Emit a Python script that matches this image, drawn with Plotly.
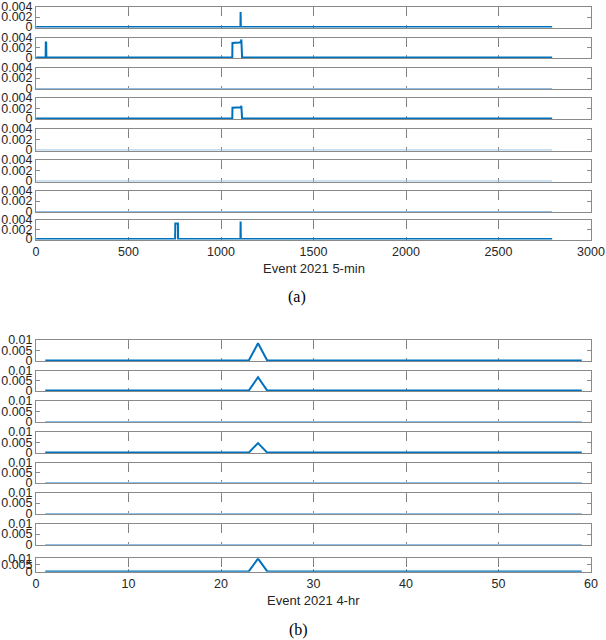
import plotly.graph_objects as go

# panel (a): 5-min series, stored as line vertices
a_x = [
    [1, 1105, 1106, 1107, 2790],
    [1, 52, 53, 55, 56, 1061, 1062, 1100, 1108, 1110, 1114, 2790],
    [1, 2790],
    [1, 1061, 1062, 1100, 1108, 1110, 1114, 2790],
    [1, 2790],
    [1, 2790],
    [1, 2790],
    [1, 752, 753, 767, 768, 1105, 1106, 1107, 2790],
]
a_y = [
    [0, 0, 0.003, 0, 0],
    [0, 0, 0.003, 0.003, 0, 0, 0.0029, 0.0030, 0.0032, 0.0036, 0, 0],
    [0, 0],
    [0, 0, 0.0021, 0.0021, 0.0022, 0.0025, 0, 0],
    [0, 0],
    [0, 0],
    [0, 0],
    [0, 0, 0.0032, 0.0032, 0, 0, 0.0036, 0, 0],
]

# panel (b): 4-hr series
b_x = [
    [1, 23, 24, 25, 59],
    [1, 23, 24, 25, 59],
    [1, 59],
    [1, 23, 24, 25, 59],
    [1, 59],
    [1, 59],
    [1, 59],
    [1, 23, 24, 25, 59],
]
b_y = [
    [0, 0, 0.0084, 0, 0],
    [0, 0, 0.0068, 0, 0],
    [0, 0],
    [0, 0, 0.0046, 0, 0],
    [0, 0],
    [0, 0],
    [0, 0],
    [0, 0, 0.0098, 0, 0],
]

a_ticks = [0, 0.002, 0.004]
a_ticktext = ["0", "0.002", "0.004"]
b_ticks = [0, 0.005, 0.01]
b_ticktext = ["0", "0.005", "0.01"]

W, H = 606, 640
# pixel rows (top, bottom) of each subplot
a_rows = [(7, 27.5), (37.5, 58), (67.5, 89), (98, 119), (129, 150.5), (160, 181.5), (190.5, 212), (219.5, 239.5)]
b_rows = [(340, 361), (371, 391), (401, 422), (432, 453), (463, 483), (492.5, 514), (523.5, 545), (558.3, 571.7)]
xdom = [36 / W, 591 / W]

BLUE = "#0072BD"
LIGHT = "#8fbde3"
FONT = "Liberation Sans"

fig = go.Figure()
layout = {}

def add_panel(xs, ys, rows, start, xrange, xdtick, ytv, ytt, ymax):
    for i in range(8):
        n = start + i
        flat = max(ys[i]) == 0
        fig.add_trace(go.Scatter(
            x=xs[i], y=ys[i], mode="lines",
            line=dict(color=LIGHT if flat else BLUE, width=1.2 if flat else 2),
            xaxis="x%d" % n, yaxis="y%d" % n, showlegend=False, hoverinfo="skip"))
        top, bot = rows[i]
        last = i == 7
        layout["xaxis%d" % n] = dict(
            domain=xdom, anchor="y%d" % n, range=xrange, dtick=xdtick, tick0=0,
            showgrid=True, gridcolor="#7f7f7f", griddash="dash", gridwidth=1,
            showline=True, linecolor="#8a8a8a", linewidth=1, mirror="allticks",
            ticks="inside", ticklen=3, tickcolor="#8a8a8a", zeroline=False,
            showticklabels=last, layer="below traces", automargin=False,
            tickfont=dict(family=FONT, size=12.5, color="#262626"))
        layout["yaxis%d" % n] = dict(
            domain=[1 - bot / H, 1 - top / H], anchor="x%d" % n,
            range=[-ymax * 0.02, ymax], tickvals=ytv, ticktext=ytt,
            showgrid=False, zeroline=False, showline=True, linecolor="#8a8a8a",
            linewidth=1, mirror="allticks", ticks="inside", ticklen=4,
            tickcolor="#8a8a8a", layer="below traces", automargin=False,
            tickfont=dict(family=FONT, size=12.5, color="#262626"))

add_panel(a_x, a_y, a_rows, 1, [0, 3000], 500, a_ticks, a_ticktext, 0.004)
add_panel(b_x, b_y, b_rows, 9, [0, 60], 10, b_ticks, b_ticktext, 0.01)

def label(text, px, py, serif=False):
    return dict(text=text, x=px / W, y=1 - py / H, xref="paper", yref="paper",
                xanchor="center", yanchor="middle", showarrow=False,
                font=dict(family="Liberation Serif" if serif else FONT,
                          size=16 if serif else 13,
                          color="black" if serif else "#262626"))

fig.update_layout(
    width=W, height=H, margin=dict(l=0, r=0, t=0, b=0, autoexpand=False),
    paper_bgcolor="white", plot_bgcolor="white",
    annotations=[
        label("Event 2021 5-min", 313.5, 268),
        label("(a)", 297, 297, serif=True),
        label("Event 2021 4-hr", 313.5, 600),
        label("(b)", 298, 630, serif=True),
    ],
    **layout)

# drop the page's default body margin so the figure sits at the window corner
fig.write_html("out.html", config={"displayModeBar": False},
               post_script="document.body.style.margin='0';")
